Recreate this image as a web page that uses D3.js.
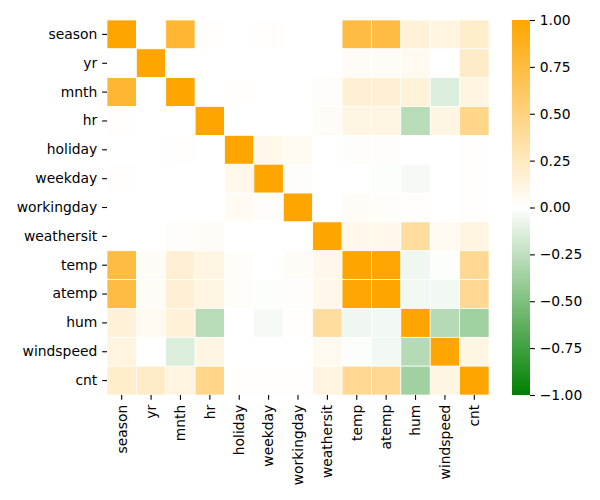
<!DOCTYPE html>
<html>
<head>
<meta charset="utf-8">
<script src="https://cdn.jsdelivr.net/npm/d3@7"></script>
<style>
  html, body { margin: 0; padding: 0; background: #fff; }
  svg text { font-family: "DejaVu Sans", sans-serif; fill: #000; }
</style>
</head>
<body>
<svg id="chart" width="600" height="500"></svg>
<script>
const categories = ["season","yr","mnth","hr","holiday","weekday","workingday","weathersit","temp","atemp","hum","windspeed","cnt"];

const rowSeason     = [1.00, 0.00, 0.80, 0.01, 0.00, 0.01, 0.00, 0.00, 0.74, 0.74, 0.15, 0.12, 0.20];
const rowYr         = [0.00, 1.00, 0.00, 0.00, 0.00, 0.00, 0.00, 0.00, 0.03, 0.03, 0.06, 0.00, 0.22];
const rowMnth       = [0.80, 0.00, 1.00, 0.00, 0.01, 0.00, 0.00, 0.02, 0.17, 0.17, 0.15, -0.14, 0.12];
const rowHr         = [0.01, 0.00, 0.00, 1.00, 0.00, 0.00, 0.00, 0.03, 0.11, 0.11, -0.28, 0.11, 0.46];
const rowHoliday    = [0.00, 0.00, 0.01, 0.00, 1.00, 0.08, 0.05, 0.00, 0.02, 0.02, 0.00, 0.00, 0.01];
const rowWeekday    = [0.01, 0.00, 0.00, 0.00, 0.08, 1.00, 0.02, 0.00, 0.00, -0.01, -0.04, 0.00, 0.01];
const rowWorkingday = [0.00, 0.00, 0.00, 0.00, 0.05, 0.02, 1.00, 0.00, 0.03, 0.02, 0.01, 0.00, 0.01];
const rowWeathersit = [0.00, 0.00, 0.02, 0.03, 0.00, 0.00, 0.00, 1.00, 0.08, 0.08, 0.38, 0.06, 0.12];
const rowTemp       = [0.74, 0.03, 0.17, 0.11, 0.02, 0.00, 0.03, 0.08, 1.00, 0.99, -0.06, -0.01, 0.42];
const rowAtemp      = [0.74, 0.03, 0.17, 0.11, 0.02, -0.01, 0.02, 0.08, 0.99, 1.00, -0.05, -0.05, 0.42];
const rowHum        = [0.15, 0.06, 0.15, -0.28, 0.00, -0.04, 0.01, 0.38, -0.06, -0.05, 1.00, -0.29, -0.37];
const rowWindspeed  = [0.12, 0.00, -0.14, 0.11, 0.00, 0.00, 0.00, 0.06, -0.01, -0.05, -0.29, 1.00, 0.11];
const rowCnt        = [0.20, 0.22, 0.12, 0.46, 0.01, 0.01, 0.01, 0.12, 0.42, 0.42, -0.37, 0.11, 1.00];

const colorbarTicks = [-1, -0.75, -0.5, -0.25, 0, 0.25, 0.5, 0.75, 1];

const rows = [rowSeason,rowYr,rowMnth,rowHr,rowHoliday,rowWeekday,rowWorkingday,rowWeathersit,rowTemp,rowAtemp,rowHum,rowWindspeed,rowCnt];
const cells = [];
rows.forEach((r, i) => r.forEach((v, j) => cells.push({row: categories[i], col: categories[j], v})));

const svg = d3.select("#chart");
const mLeft = 107, mRight = 489, mTop = 20, mBottom = 395;

const x = d3.scaleBand().domain(categories).range([mLeft, mRight]);
const y = d3.scaleBand().domain(categories).range([mTop, mBottom]);
const color = d3.scaleLinear().domain([-1, 0, 1]).range(["green", "white", "orange"]);

svg.append("g").selectAll("rect").data(cells).join("rect")
  .attr("x", d => x(d.col))
  .attr("y", d => y(d.row))
  .attr("width", x.bandwidth())
  .attr("height", y.bandwidth())
  .attr("fill", d => color(d.v))
  .attr("stroke", "white")
  .attr("stroke-width", 0.7);

const tickLen = 4.86, pad = 4.86, fs = "13.89px";
const yAxis = svg.append("g").attr("transform", `translate(${mLeft},0)`)
  .call(d3.axisLeft(y).tickSize(tickLen).tickPadding(pad));
yAxis.select(".domain").remove();
yAxis.selectAll("text").style("font-size", fs).style("font-family", "DejaVu Sans").attr("fill", "#000");
yAxis.selectAll("line").attr("stroke", "#000").attr("stroke-width", 1.1);

const xAxis = svg.append("g").attr("transform", `translate(0,${mBottom})`)
  .call(d3.axisBottom(x).tickSize(tickLen).tickPadding(pad));
xAxis.select(".domain").remove();
xAxis.selectAll("line").attr("stroke", "#000").attr("stroke-width", 1.1);
xAxis.selectAll("text")
  .style("font-size", fs).style("font-family", "DejaVu Sans").attr("fill", "#000")
  .attr("transform", "rotate(-90)")
  .attr("text-anchor", "end")
  .attr("x", -(tickLen + pad))
  .attr("y", 0)
  .attr("dy", "0.35em");

// Colorbar
const cbX = 512, cbW = 18;
const cScale = d3.scaleLinear().domain([-1, 1]).range([mBottom, mTop]);
const defs = svg.append("defs");
const grad = defs.append("linearGradient").attr("id", "cbgrad")
  .attr("x1", 0).attr("y1", 1).attr("x2", 0).attr("y2", 0);
[-1, 0, 1].forEach(v => grad.append("stop")
  .attr("offset", (v + 1) / 2).attr("stop-color", color(v)));
svg.append("rect").attr("x", cbX).attr("y", mTop).attr("width", cbW).attr("height", mBottom - mTop)
  .attr("fill", "url(#cbgrad)");

const cAxis = svg.append("g").attr("transform", `translate(${cbX + cbW},0)`)
  .call(d3.axisRight(cScale).tickValues(colorbarTicks).tickFormat(d3.format(".2f")).tickSize(tickLen).tickPadding(pad));
cAxis.select(".domain").remove();
cAxis.selectAll("line").attr("stroke", "#000").attr("stroke-width", 1.1);
cAxis.selectAll("text").style("font-size", fs).style("font-family", "DejaVu Sans").attr("fill", "#000");
</script>
</body>
</html>
